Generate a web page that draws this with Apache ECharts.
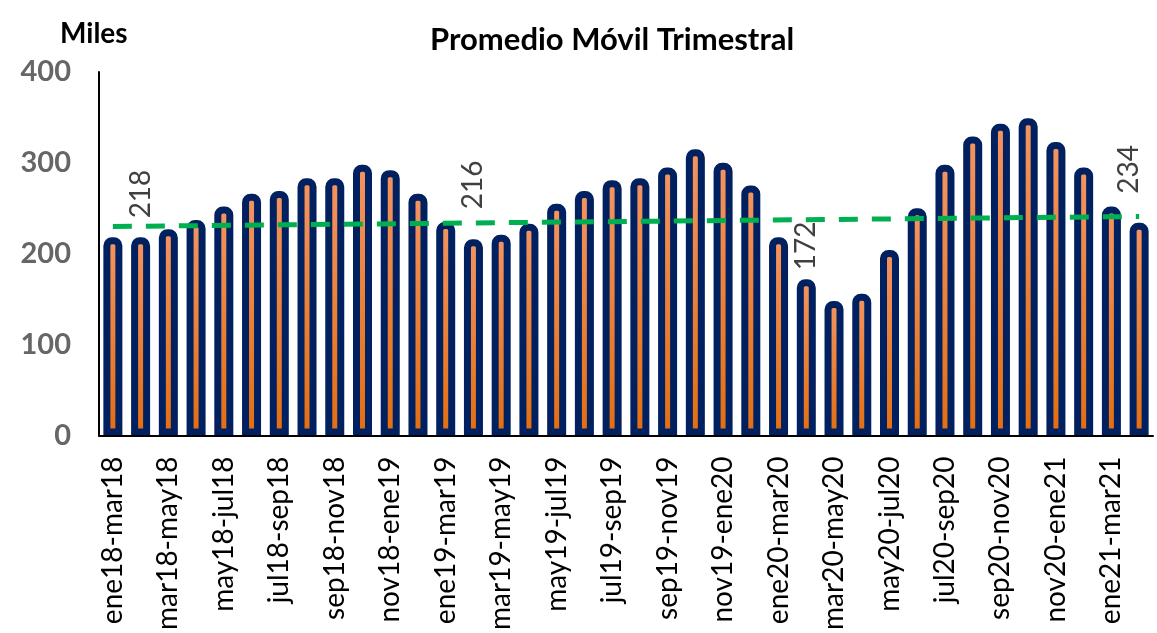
<!DOCTYPE html>
<html>
<head>
<meta charset="utf-8">
<title>Promedio Móvil Trimestral</title>
<script src="https://cdn.jsdelivr.net/npm/echarts@6/dist/echarts.min.js"></script>
<style>
  html, body { margin: 0; padding: 0; background: #ffffff; }
  #chart { width: 1157px; height: 633px; }
</style>
</head>
<body>
<div id="chart"></div>
<script>
// categorías (trimestres móviles)
const categories = [
  'ene18-mar18', 'feb18-abr18', 'mar18-may18', 'abr18-jun18', 'may18-jul18', 'jun18-ago18',
  'jul18-sep18', 'ago18-oct18', 'sep18-nov18', 'oct18-dic18', 'nov18-ene19', 'dic18-feb19',
  'ene19-mar19', 'feb19-abr19', 'mar19-may19', 'abr19-jun19', 'may19-jul19', 'jun19-ago19',
  'jul19-sep19', 'ago19-oct19', 'sep19-nov19', 'oct19-dic19', 'nov19-ene20', 'dic19-feb20',
  'ene20-mar20', 'feb20-abr20', 'mar20-may20', 'abr20-jun20', 'may20-jul20', 'jun20-ago20',
  'jul20-sep20', 'ago20-oct20', 'sep20-nov20', 'oct20-dic20', 'nov20-ene21', 'dic20-feb21',
  'ene21-mar21', 'feb21-abr21'
]
// miles
const values = [
  218, 218, 227, 237, 252, 266, 269, 283, 283, 298, 292, 266,
  235, 216, 221, 233, 255, 269, 281, 283, 295, 315, 300, 275,
  218, 172, 148, 156, 204, 250, 298, 329, 343, 349, 323, 295,
  252, 234
]
// línea de tendencia: [indice, valor] al inicio y al final
const trendPoints = [[0, 230], [37, 241]]
// barras con etiqueta
const labeledIdx = [1, 13, 25, 37]
const yTicks = [0, 100, 200, 300, 400]

// ajuste manual de etiquetas (como en el original)
const labelStyle = {
  1: { distance: 19, offset: [0, 0] },
  13: { distance: 30, offset: [0, 0] },
  25: { distance: 9, offset: [0, 0] },
  37: { distance: 29, offset: [0, -10] }
}

const barData = values.map((v, i) => {
  if (labeledIdx.indexOf(i) < 0) return v
  const s = labelStyle[i]
  return {
    value: v,
    label: {
      show: true,
      position: 'top',
      rotate: 90,
      align: 'left',
      verticalAlign: 'middle',
      distance: s.distance,
      offset: s.offset,
      color: '#404040',
      fontFamily: 'Lato',
      fontSize: 28,
      formatter: '{c}'
    }
  }
})

const chart = echarts.init(document.getElementById('chart'))
chart.setOption({
  animation: false,
  title: [
    {
      text: 'Promedio Móvil Trimestral',
      left: 425,
      top: 19,
      textStyle: { color: '#000', fontFamily: 'Lato', fontWeight: 'bold', fontSize: 31 }
    },
    {
      text: 'Miles',
      left: 55,
      top: 15,
      textStyle: { color: '#000', fontFamily: 'Lato', fontWeight: 'bold', fontSize: 28 }
    }
  ],
  grid: {
    left: 99,
    right: 4,
    top: 72,
    bottom: 196,
    containLabel: false
  },
  xAxis: {
    type: 'category',
    data: categories,
    axisLine: { show: true, lineStyle: { color: '#000', width: 2 } },
    axisTick: { show: false },
    axisLabel: {
      interval: 1,
      rotate: 90,
      margin: 21,
      color: '#000',
      fontFamily: 'Lato',
      fontSize: 28
    },
    z: 5
  },
  yAxis: {
    type: 'value',
    min: yTicks[0],
    max: yTicks[yTicks.length - 1],
    interval: 100,
    axisLine: { show: true, lineStyle: { color: '#000', width: 2 } },
    axisTick: { show: false },
    splitLine: { show: false },
    axisLabel: {
      margin: 28,
      color: '#666666',
      fontFamily: 'Lato',
      fontWeight: 'bold',
      fontSize: 29
    }
  },
  series: [
    {
      name: 'Promedio',
      type: 'bar',
      data: barData,
      barWidth: 19,
      itemStyle: {
        color: new echarts.graphic.LinearGradient(0, 0, 0, 1, [
          { offset: 0, color: '#F39462' },
          { offset: 1, color: '#E26E10' }
        ]),
        borderColor: '#002060',
        borderWidth: 7,
        borderRadius: [5, 5, 0, 0]
      },
      z: 2
    },
    {
      name: 'Tendencia',
      type: 'line',
      data: trendPoints,
      symbol: 'none',
      lineStyle: {
        color: '#00B050',
        width: 5,
        type: [19, 14]
      },
      z: 4
    }
  ]
})
</script>
</body>
</html>
